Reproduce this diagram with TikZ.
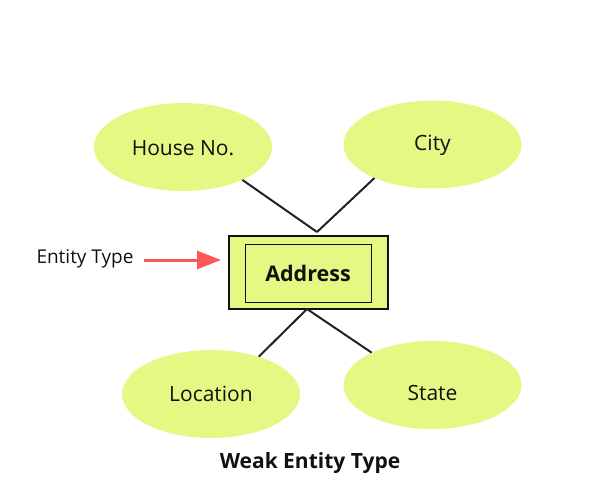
\documentclass[tikz,border=0pt]{standalone}
\usepackage{fontspec}
\setmainfont{Open Sans}
\usetikzlibrary{shapes.geometric,arrows.meta}
\definecolor{attrfill}{HTML}{E3F984}
\definecolor{ink}{HTML}{111111}
\definecolor{linec}{HTML}{222222}
\definecolor{arrowred}{HTML}{FF5757}
\begin{document}
\begin{tikzpicture}[x=1pt,y=-1pt,
  attr/.style={ellipse,fill=attrfill,draw=none,minimum width=178pt,minimum height=88pt,inner sep=0pt},
  attrtext/.style={font=\fontsize{21}{25}\selectfont,text=ink,inner sep=0pt},
  conn/.style={draw=linec,line width=2pt},
  outerbox/.style={rectangle,draw=ink,line width=1.5pt,fill=attrfill,minimum width=159pt,minimum height=73pt,inner sep=0pt},
  innerbox/.style={rectangle,draw=ink,line width=1pt,minimum width=126pt,minimum height=58pt,inner sep=0pt,font=\bfseries\fontsize{21.5}{25}\selectfont,text=ink}]
\useasboundingbox (0,0) rectangle (600,500);
\node[attr] (house) at (183,147) {};
\node[attrtext] (houseT) at (183,148) {House No.};
\node[attr] (city) at (432.5,144.5) {};
\node[attrtext] (cityT) at (432.5,145) {City};
\node[attr] (loc) at (211,394) {};
\node[attrtext] (locT) at (211,394) {Location};
\node[attr] (state) at (432.5,385) {};
\node[attrtext] (stateT) at (432.5,393) {State};
\node[outerbox] (outer) at (308.5,272.5) {};
\node[innerbox] (inner) at (308,273) {Address};
\coordinate (jtop) at (317,232);
\coordinate (jbot) at (307,309);
\draw[conn] (jtop) -- (house.-29.6);
\draw[conn] (jtop) -- (city.-150.7);
\draw[conn] (jbot) -- (loc.38.4);
\draw[conn] (jbot) -- (state.152.7);
\node[font=\fontsize{19}{23}\selectfont,text=ink] (lbl) at (85,259) {Entity Type};
\coordinate (atip) at (221,260);
\draw[arrowred,line width=3pt,-{Triangle[length=24pt,width=18pt]}] (144,260) coordinate (astart) -- (atip);
\node[font=\bfseries\fontsize{21}{25}\selectfont,text=ink] (title) at (310,463) {Weak Entity Type};
\end{tikzpicture}
\end{document}
